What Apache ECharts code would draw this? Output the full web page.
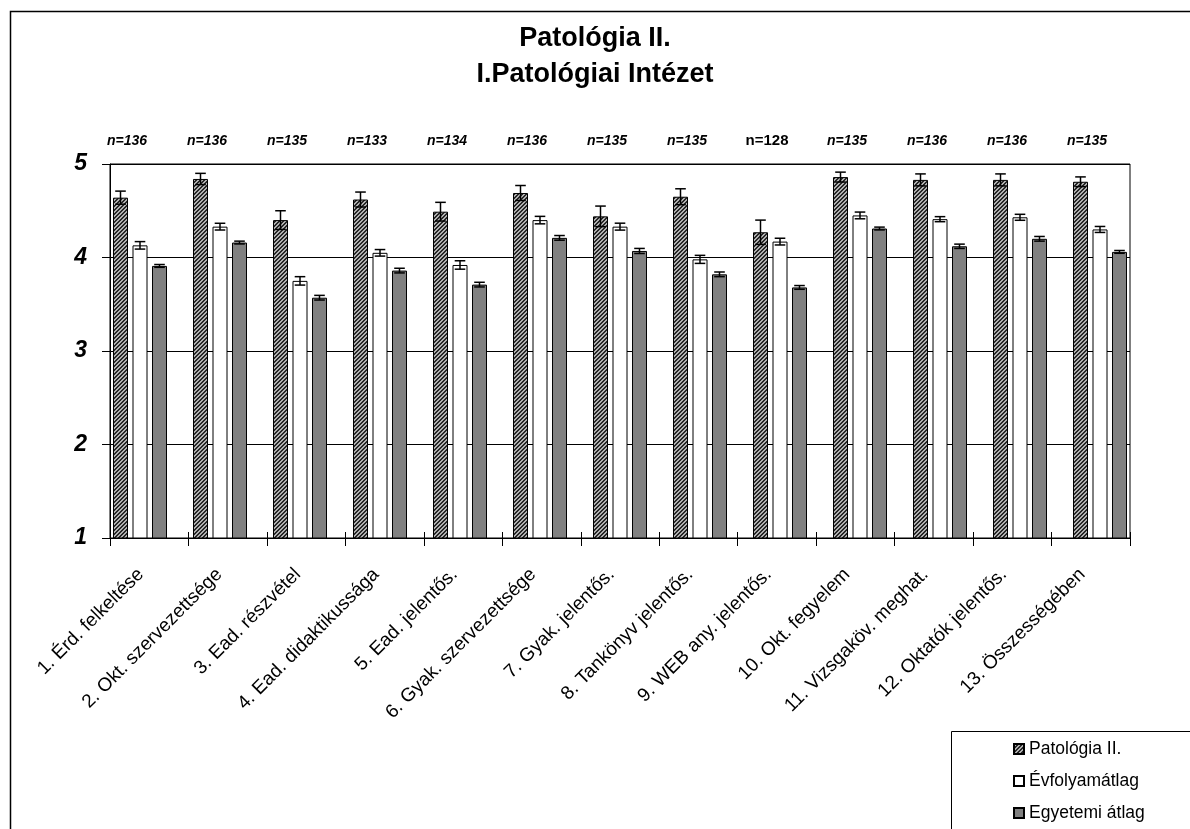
<!DOCTYPE html>
<html>
<head>
<meta charset="utf-8">
<script src="https://cdn.jsdelivr.net/npm/echarts@6/dist/echarts.min.js"></script>
<style>html,body{margin:0;padding:0;background:#fff}#c{width:1190px;height:829px}</style>
</head>
<body>
<div id="c"></div>
<script>
// ---- data ----
const categories = ['1. Érd. felkeltése','2. Okt. szervezettsége','3. Ead. részvétel','4. Ead. didaktikussága','5. Ead. jelentős.','6. Gyak. szervezettsége','7. Gyak. jelentős.','8. Tankönyv jelentős.','9. WEB any. jelentős.','10. Okt. fegyelem','11. Vizsgaköv. meghat.','12. Oktatók jelentős.','13. Összességében'];
const seriesNames = ['Patológia II.','Évfolyamátlag','Egyetemi átlag'];
const patologia = [4.64,4.84,4.40,4.62,4.49,4.69,4.44,4.65,4.27,4.86,4.83,4.83,4.81];
const evfolyam  = [4.13,4.33,3.75,4.05,3.92,4.40,4.33,3.98,4.17,4.45,4.41,4.43,4.30];
const egyetemi  = [3.91,4.16,3.57,3.86,3.71,4.21,4.07,3.82,3.68,4.31,4.12,4.20,4.06];
const patErr = [0.07,0.06,0.10,0.08,0.10,0.08,0.11,0.085,0.13,0.053,0.064,0.064,0.052];
const evfErr = [0.04,0.036,0.045,0.035,0.045,0.04,0.037,0.043,0.036,0.036,0.027,0.032,0.032];
const egyErr = [0.015,0.015,0.025,0.025,0.025,0.025,0.027,0.025,0.02,0.015,0.023,0.025,0.015];
const nCounts = [136,136,135,133,134,136,135,135,128,135,136,136,135];
const yTicks = [1,2,3,4,5];

// ---- styles ----
const FONT = '"Liberation Sans", Arial, sans-serif';
const pc = document.createElement('canvas');
pc.width = 4; pc.height = 4;
const g = pc.getContext('2d');
g.fillStyle = '#b0b0b0'; g.fillRect(0,0,4,4);
g.fillStyle = '#262626';
for (let i = 0; i < 4; i++) { g.fillRect(i, 3 - i, 1, 1); g.fillRect(i, (4 - i) % 4, 1, 1); }
const hatch = { image: pc, repeat: 'repeat' };

const barColors = [hatch, '#ffffff', '#808080'];
const values = [patologia, evfolyam, egyetemi];
const errs = [patErr, evfErr, egyErr];
const offsets = [-19.5, 0, 19.5];

const barSeries = seriesNames.map((name, s) => ({
  name, type: 'bar', xAxisIndex: 0, yAxisIndex: 0,
  barWidth: 15, barGap: '30%',
  data: values[s],
  itemStyle: { color: barColors[s], borderColor: '#000', borderWidth: 1 },
  emphasis: { disabled: true }, z: 2
}));

const errSeries = seriesNames.map((name, s) => ({
  type: 'custom', xAxisIndex: 0, yAxisIndex: 0, z: 5, silent: true,
  data: values[s].map((v, i) => [i, v, errs[s][i]]),
  renderItem: (params, api) => {
    const i = api.value(0), v = api.value(1), e = api.value(2);
    const top = api.coord([i, v + e]);
    const bot = api.coord([i, v - e]);
    const x = top[0] + offsets[s];
    const st = { stroke: '#000', lineWidth: 1.5 };
    return { type: 'group', children: [
      { type: 'line', shape: { x1: x, y1: top[1], x2: x, y2: bot[1] }, style: st },
      { type: 'line', shape: { x1: x - 5.3, y1: top[1], x2: x + 5.3, y2: top[1] }, style: st },
      { type: 'line', shape: { x1: x - 5.3, y1: bot[1], x2: x + 5.3, y2: bot[1] }, style: st }
    ]};
  }
}));

const nSeries = {
  type: 'custom', xAxisIndex: 0, yAxisIndex: 0, z: 5, silent: true,
  data: nCounts.map((n, i) => [i, 5, n]),
  renderItem: (params, api) => {
    const i = api.value(0), n = api.value(2);
    const p = api.coord([i, 5]);
    const special = (n === 128);
    return { type: 'text', x: p[0] - 13, y: p[1] - 23, style: {
      text: 'n=' + n, fill: '#000', align: 'center', verticalAlign: 'middle',
      font: (special ? 'normal bold 15px ' : 'italic bold 14px ') + FONT
    }};
  }
};

const chart = echarts.init(document.getElementById('c'), null, { renderer: 'canvas' });
chart.setOption({
  animation: false,
  backgroundColor: '#fff',
  title: {
    text: 'Patológia II.\nI.Patológiai Intézet', left: 'center', top: 16,
    textStyle: { fontFamily: FONT, fontSize: 27, fontWeight: 'bold', color: '#000', lineHeight: 36 }
  },
  legend: {
    data: seriesNames, orient: 'vertical', left: 1008, top: 735,
    icon: 'rect', itemWidth: 10, itemHeight: 10, itemGap: 14,
    textStyle: { fontFamily: FONT, fontSize: 17.5, color: '#000' },
    selectedMode: false
  },
  grid: [
    { left: 100, width: 1040, top: 164, bottom: 291, show: false },
    { left: 110, right: 60, top: 164, bottom: 291, show: true, borderColor: '#000', borderWidth: 1, backgroundColor: 'transparent' }
  ],
  xAxis: [
    { type: 'category', gridIndex: 0, data: categories, show: false },
    { type: 'category', gridIndex: 1, data: categories, boundaryGap: true,
      axisLine: { lineStyle: { color: '#000', width: 1 } },
      axisTick: { show: true, interval: 0, length: 8, lineStyle: { color: '#000' } },
      axisLabel: { interval: 0, rotate: 45, margin: 25, padding: [0, 12, 0, 0], color: '#000', fontFamily: FONT, fontSize: 19 } },
    { type: 'category', gridIndex: 1, data: categories, boundaryGap: true, position: 'bottom',
      axisLine: { show: false },
      axisTick: { show: true, inside: true, interval: 0, length: 6, lineStyle: { color: '#000' } },
      axisLabel: { show: false }, splitLine: { show: false } }
  ],
  yAxis: [
    { type: 'value', gridIndex: 0, min: 1, max: 5, interval: 1, show: false, splitLine: { show: false } },
    { type: 'value', gridIndex: 1, min: 1, max: 5, interval: 1,
      axisLine: { show: true, lineStyle: { color: '#000' } },
      axisTick: { show: true, length: 8, lineStyle: { color: '#000' } },
      splitLine: { show: true, lineStyle: { color: '#000', width: 1 } },
      axisLabel: { margin: 23, color: '#000', fontFamily: FONT, fontSize: 23, fontWeight: 'bold', fontStyle: 'italic',
        formatter: v => yTicks.includes(v) ? String(v) : '' } }
  ],
  graphic: [
    { type: 'rect', shape: { x: 10.5, y: 11.5, width: 1400, height: 1000 }, style: { fill: 'none', stroke: '#000', lineWidth: 1.5 }, silent: true, z: 0 },
    { type: 'rect', shape: { x: 951.5, y: 731.5, width: 400, height: 200 }, style: { fill: 'none', stroke: '#000', lineWidth: 1 }, silent: true, z: 0 }
  ],
  series: [...barSeries, ...errSeries, nSeries]
});
</script>
</body>
</html>
